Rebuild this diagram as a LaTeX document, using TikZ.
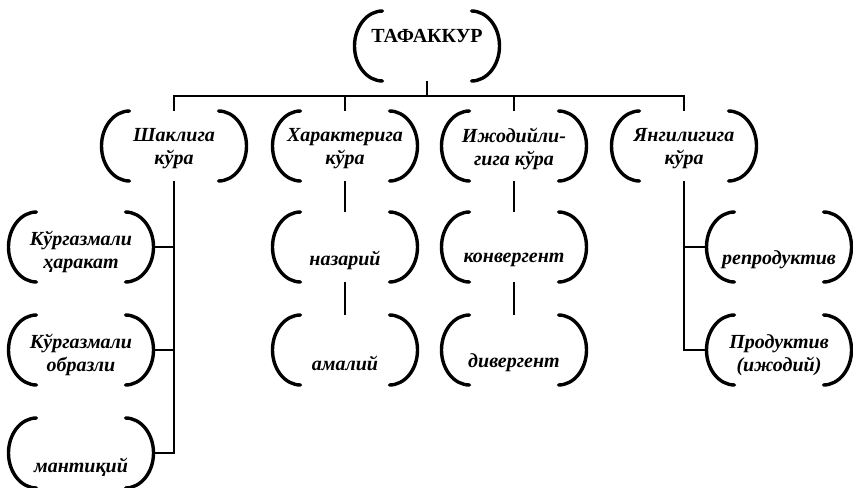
\documentclass[tikz,border=0pt]{standalone}
\usepackage{fontspec}
\setmainfont{Liberation Serif}
\begin{document}
\begin{tikzpicture}[x=1pt,y=-1pt,
  frm/.style={minimum width=145pt, minimum height=70pt, inner sep=0pt, outer sep=0pt},
  brk/.style={line width=3.4pt, line cap=round},
  conn/.style={line width=1.4pt},
  txt/.style={font=\bfseries\itshape\fontsize{20}{23}\selectfont, align=center, inner sep=0pt},
  ttl/.style={font=\bfseries\fontsize{20}{23}\selectfont, inner sep=0pt}]
\useasboundingbox (0,0) rectangle (853,487);
% frames
\node[frm] (t)  at (427,46) {};
\node[frm] (s1) at (174,146) {};
\node[frm] (s2) at (345,146) {};
\node[frm] (s3) at (514,146) {};
\node[frm] (s4) at (684,146) {};
\node[frm] (a1) at (81,247) {};
\node[frm] (a2) at (81,350) {};
\node[frm] (a3) at (81,453) {};
\node[frm] (b1) at (345,247) {};
\node[frm] (b2) at (345,350) {};
\node[frm] (c1) at (514,247) {};
\node[frm] (c2) at (514,350) {};
\node[frm] (d1) at (779,247) {};
\node[frm] (d2) at (779,350) {};
% brackets
\foreach \n in {t,s1,s2,s3,s4,a1,a2,a3,b1,b2,c1,c2,d1,d2}{
  \draw[brk] ([xshift=28pt]\n.north west) arc[start angle=90, end angle=270, x radius=28pt, y radius=35pt];
  \draw[brk] ([xshift=-28pt]\n.north east) arc[start angle=90, end angle=-90, x radius=28pt, y radius=35pt];
}
% texts
\node[ttl] (tl)  at ([yshift=10pt]t.center) {ТАФАККУР};
\node[txt] (s1l) at ([yshift=-3pt]s1.center) {Шаклига\\кўра};
\node[txt] (s2l) at ([yshift=-3pt]s2.center) {Характерига\\кўра};
\node[txt] (s3l) at ([yshift=-3pt]s3.center) {Ижодийли-\\гига кўра};
\node[txt] (s4l) at ([yshift=-3pt]s4.center) {Янгилигига\\кўра};
\node[txt] (a1l) at ([yshift=-5pt]a1.center) {Кўргазмали\\ҳаракат};
\node[txt] (a2l) at ([yshift=-5pt]a2.center) {Кўргазмали\\образли};
\node[txt] (a3l) at ([yshift=-14pt]a3.center) {мантиқий};
\node[txt] (b1l) at ([yshift=-13pt]b1.center) {назарий};
\node[txt] (b2l) at ([yshift=-13pt]b2.center) {амалий};
\node[txt] (c1l) at ([yshift=-13pt]c1.center) {конвергент};
\node[txt] (c2l) at ([yshift=-13pt]c2.center) {дивергент};
\node[txt] (d1l) at ([yshift=-13pt]d1.center) {репродуктив};
\node[txt] (d2l) at ([yshift=-5pt]d2.center) {Продуктив\\(ижодий)};
% connectors
\coordinate (hub) at (428,96);
\draw[conn] (t.south) -- (t.south |- hub);
\draw[conn] (s1.north) |- (s4.north |- hub) -- (s4.north);
\draw[conn] (s2.north) -- (s2.north |- hub);
\draw[conn] (s3.north) -- (s3.north |- hub);
\draw[conn] (s1.south) |- (a3.east);
\draw[conn] (a1.east) -- (a1.east -| s1.south);
\draw[conn] (a2.east) -- (a2.east -| s1.south);
\draw[conn] (s2.south) -- (b1.north);
\draw[conn] (b1.south) -- (b2.north);
\draw[conn] (s3.south) -- (c1.north);
\draw[conn] (c1.south) -- (c2.north);
\draw[conn] (s4.south) |- (d2.west);
\draw[conn] (d1.west) -- (d1.west -| s4.south);
\end{tikzpicture}
\end{document}
